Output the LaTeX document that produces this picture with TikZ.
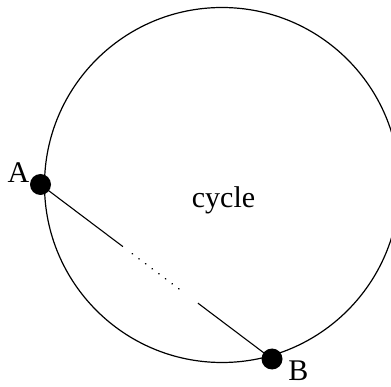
\documentclass[tikz,border=0pt]{standalone}
\usepackage{fontspec}
\setmainfont{Liberation Serif}
\usetikzlibrary{calc}
\begin{document}
\begin{tikzpicture}[x=1pt,y=-1pt,
  vertex/.style={circle,fill=black,inner sep=0pt,minimum size=21pt},
  lbl/.style={font=\fontsize{30}{35}\selectfont,inner sep=0pt,anchor=base},
  edge/.style={line width=1.1pt},
  dotpart/.style={line width=1.8pt,line cap=round,dash pattern=on 0.01pt off 8.3pt}]
\useasboundingbox (0,0) rectangle (391,387);
\begin{scope}
\clip (0,0) rectangle (391,387);
\draw[line width=1.2pt] (222,185) circle[radius=177.5];
\end{scope}
\node[vertex] (A) at (40.5,184.5) {};
\node[vertex] (B) at (272,359) {};
\node[lbl] (la) at (18.5,183) {A};
\node[lbl] (lb) at (298.5,381) {B};
\node[lbl] (cyc) at (223.5,208) {cycle};
\coordinate (p1) at ($(A.center)!0.356!(B.center)$);
\coordinate (p2) at ($(A.center)!0.397!(B.center)$);
\coordinate (p3) at ($(A.center)!0.615!(B.center)$);
\coordinate (p4) at ($(A.center)!0.68!(B.center)$);
\draw[edge] (A.center) -- (p1);
\draw[dotpart] (p2) -- (p3);
\draw[edge] (p4) -- (B.center);
\end{tikzpicture}
\end{document}
